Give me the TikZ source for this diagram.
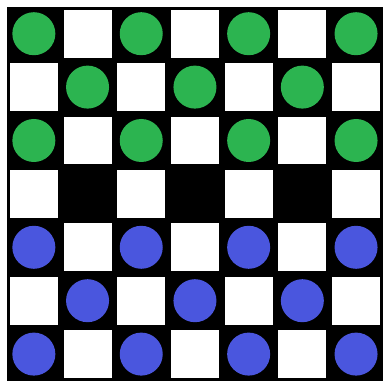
\documentclass[tikz,border=0pt]{standalone}
\usepackage{tikz}

\definecolor{pieceGreen}{RGB}{44,180,80}
\definecolor{pieceBlue}{RGB}{74,86,222}

\begin{document}
\begin{tikzpicture}[x=0.5mm, y=-0.5mm]
  \useasboundingbox (0,0) rectangle (383,381);
  \fill[white] (0,0) rectangle (383,381);

  % Board
  \fill[black] (7,7) rectangle (383,381);

  % White squares
  \foreach \i in {0,...,6}
    \foreach \j in {0,...,6} {
      \pgfmathtruncatemacro{\odd}{mod(\i+\j,2)}
      \ifnum\odd=1
        \fill[white] ({7+53.7*\i+2.8},{7+53.4*\j+2.8}) rectangle ({7+53.7*(\i+1)-2.8},{7+53.4*(\j+1)-2.8});
      \fi
    }

  % Green pieces
  \foreach \i in {0,...,6}
    \foreach \j in {0,1,2} {
      \pgfmathtruncatemacro{\odd}{mod(\i+\j,2)}
      \ifnum\odd=0
        \fill[pieceGreen] ({7+53.7*(\i+0.5)},{7+53.4*(\j+0.5)}) circle (21.5);
      \fi
    }

  % Blue pieces
  \foreach \i in {0,...,6}
    \foreach \j in {4,5,6} {
      \pgfmathtruncatemacro{\odd}{mod(\i+\j,2)}
      \ifnum\odd=0
        \fill[pieceBlue] ({7+53.7*(\i+0.5)},{7+53.4*(\j+0.5)}) circle (21.5);
      \fi
    }
\end{tikzpicture}
\end{document}
